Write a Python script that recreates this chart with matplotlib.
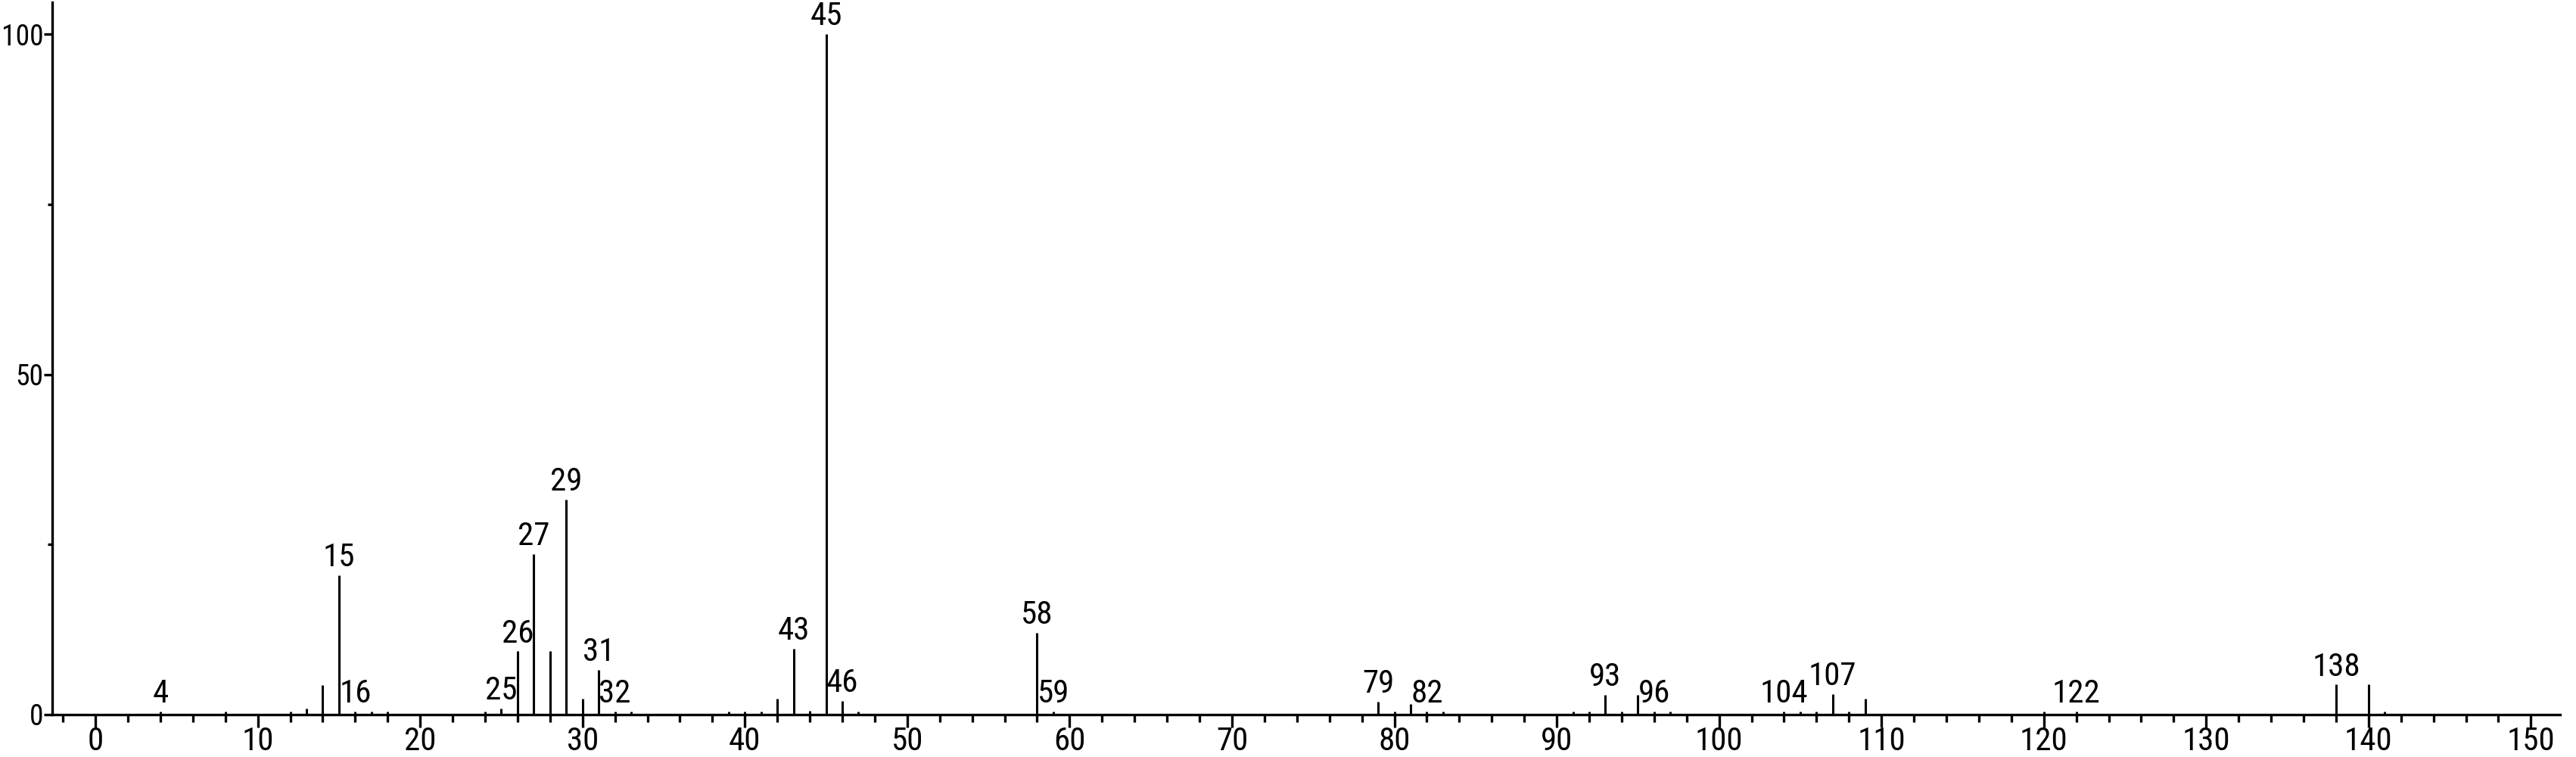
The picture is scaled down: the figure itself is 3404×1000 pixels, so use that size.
import matplotlib
import matplotlib.pyplot as plt
from matplotlib.ticker import MultipleLocator

# ---------------------------------------------------------------------------
# Mass spectrum data (m/z, relative intensity %)
# ---------------------------------------------------------------------------
MZ = [4, 8, 12, 13, 14, 15, 16, 17, 18, 24, 25, 26, 27, 28, 29, 30, 31, 32, 33,
      39, 40, 41, 42, 43, 44, 45, 46, 47, 58, 59, 79, 80, 81, 82, 83, 91, 92,
      93, 94, 95, 96, 97, 104, 105, 106, 107, 108, 109, 120, 122, 138, 140, 141]
INTENSITY = [0.5, 0.4, 0.5, 0.9, 4.3, 20.5, 0.5, 0.4, 0.4, 0.5, 0.9, 9.3, 23.6,
             9.3, 31.6, 2.3, 6.6, 0.5, 0.4, 0.5, 0.5, 0.5, 2.3, 9.7, 0.6, 100.0,
             2.0, 0.5, 12.0, 0.5, 1.9, 0.5, 1.6, 0.5, 0.5, 0.5, 0.5, 2.9, 0.5,
             2.9, 0.5, 0.5, 0.5, 0.5, 0.5, 3.0, 0.5, 2.3, 0.5, 0.5, 4.4, 4.4, 0.5]
LABELED = [4, 15, 16, 25, 26, 27, 29, 31, 32, 43, 45, 46, 58, 59, 79, 82, 93,
           96, 104, 107, 122, 138]

FONT = ["Roboto Condensed", "Liberation Sans", "DejaVu Sans"]
matplotlib.rcParams.update({
    "font.family": FONT,
    "axes.spines.top": False,
    "axes.spines.right": False,
})

fig = plt.figure(figsize=(34.04, 10), dpi=100)
ax = fig.add_axes([69 / 3404, 0.056, (3383 - 69) / 3404, 0.941])

ax.vlines(MZ, 0, INTENSITY, color="black", linewidth=2.2)

height = dict(zip(MZ, INTENSITY))
for m in LABELED:
    ax.annotate(str(m), (m, height[m]), xytext=(0, 2), textcoords="offset points",
                ha="center", va="bottom", fontsize=31)

ax.set_xlim(-2.66, 151.8)
ax.set_ylim(0, 104.7)

ax.xaxis.set_major_locator(MultipleLocator(10))
ax.xaxis.set_minor_locator(MultipleLocator(2))
ax.yaxis.set_major_locator(MultipleLocator(50))
ax.yaxis.set_minor_locator(MultipleLocator(25))

for side in ["left", "bottom"]:
    ax.spines[side].set_linewidth(2.4)

ax.tick_params(axis="x", which="major", length=12, width=2.4, labelsize=31, pad=-1)
ax.tick_params(axis="x", which="minor", length=7.5, width=2.4)
ax.tick_params(axis="y", which="major", length=8, width=2.4, labelsize=27, pad=0.5)
ax.tick_params(axis="y", which="minor", length=4, width=2.4)

fig.savefig("out.png", dpi=100)
